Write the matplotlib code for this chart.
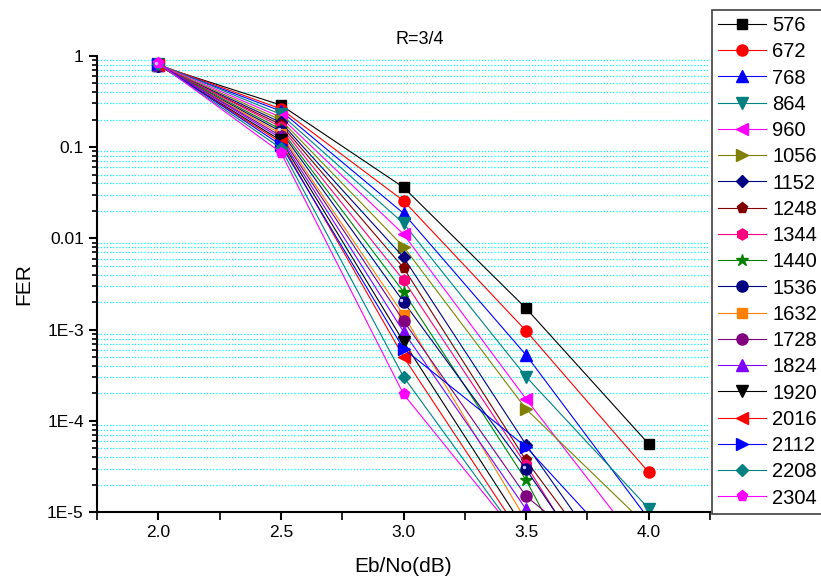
import numpy as np
import matplotlib
matplotlib.use('Agg')
import matplotlib.pyplot as plt
from matplotlib.ticker import FixedLocator, FixedFormatter, LogLocator, NullFormatter

plt.rcParams['font.family'] = ['Liberation Sans', 'DejaVu Sans']

# Eb/No points (dB)
ebno = [2.0, 2.5, 3.0, 3.5, 4.0]

# block sizes (legend entries)
block_sizes = ['576', '672', '768', '864', '960', '1056', '1152', '1248', '1344', '1440',
               '1536', '1632', '1728', '1824', '1920', '2016', '2112', '2208', '2304']

# FER per block size, one value per Eb/No point (values under 1E-5 are off the chart)
fer = [
    [0.78, 0.288, 0.0362, 1.71e-3, 5.6e-5],
    [0.80, 0.262, 0.0258, 9.7e-4, 2.74e-5],
    [0.79, 0.248, 0.0188, 5.27e-4, 8.5e-6],
    [0.81, 0.228, 0.0146, 3.05e-4, 1.1e-5],
    [0.80, 0.212, 0.0111, 1.74e-4, 3.2e-6],
    [0.79, 0.198, 0.0081, 1.35e-4, 6.8e-6],
    [0.78, 0.186, 0.0062, 5.5e-5, 6.8e-7],
    [0.77, 0.176, 0.00476, 3.7e-5, 5.8e-7],
    [0.80, 0.166, 0.00349, 3.3e-5, 2.3e-7],
    [0.79, 0.156, 0.0026, 2.25e-5, 6.7e-8],
    [0.78, 0.148, 0.00202, 2.95e-5, 3.2e-7],
    [0.79, 0.140, 0.00145, 8.1e-6, 1e-7],
    [0.80, 0.132, 0.00125, 1.5e-5, 1.2e-6],
    [0.81, 0.125, 0.00095, 1.08e-5, 1e-7],
    [0.79, 0.118, 0.00074, 6.2e-6, 1e-7],
    [0.80, 0.112, 0.000505, 4.7e-6, 1e-7],
    [0.82, 0.105, 0.00062, 5.2e-5, 1.8e-6],
    [0.81, 0.097, 0.000305, 4.3e-6, 1e-7],
    [0.83, 0.087, 0.000197, 4.3e-6, 1e-7],
]

# Origin-like colours and symbols
colors = ['black', 'red', 'blue', '#008080', 'magenta', '#808000', '#000080', '#800000',
          '#FF0080', '#008000', '#000080', '#FF8000', '#800080', '#8000FF', 'black',
          'red', 'blue', '#008080', 'magenta']
markers = ['s', 'o', '^', 'v', '<', '>', 'D', 'p', 'h', '*', 'o', 's', 'o', '^', 'v',
           '<', '>', 'D', 'p']
msizes = [7, 8, 8, 8, 8, 8, 6.5, 8, 8, 9, 8, 7, 8, 8, 8, 8, 8, 6.5, 8]

fig = plt.figure(figsize=(8.21, 5.79), dpi=100)
ax = fig.add_axes([97/821, 1 - 512.3/579, (710 - 97)/821, (512.3 - 55.7)/579])

for i in range(len(block_sizes)):
    ax.plot(ebno, fer[i], color=colors[i], marker=markers[i], markersize=msizes[i],
            markeredgecolor=colors[i], linewidth=0.8, label=block_sizes[i])

# little highlight on the 1536 "sphere" symbols
ax.plot(ebno, fer[10], linestyle='none', marker='o', markersize=2.5, color='#c8c8ff',
        markeredgewidth=0, transform=ax.transData +
        matplotlib.transforms.ScaledTranslation(-1.5/72, 1.5/72, fig.dpi_scale_trans))

ax.set_yscale('log')
ax.set_xlim(1.75, 4.25)
ax.set_ylim(1e-5, 1)

# ticks
ax.set_xticks([2.0, 2.5, 3.0, 3.5, 4.0])
ax.set_xticklabels(['2.0', '2.5', '3.0', '3.5', '4.0'])
ax.xaxis.set_minor_locator(FixedLocator([1.75, 2.25, 2.75, 3.25, 3.75, 4.25]))
ax.yaxis.set_major_locator(FixedLocator([1e-5, 1e-4, 1e-3, 1e-2, 1e-1, 1]))
ax.yaxis.set_major_formatter(FixedFormatter(['1E-5', '1E-4', '1E-3', '0.01', '0.1', '1']))
ax.yaxis.set_minor_locator(LogLocator(base=10, subs=np.arange(2, 10), numticks=20))
ax.yaxis.set_minor_formatter(NullFormatter())
ax.tick_params(axis='both', which='major', direction='out', length=6, width=1.5,
               labelsize=12.5, colors='black')
ax.tick_params(axis='y', which='minor', direction='out', length=3.5, width=1.2)
ax.tick_params(axis='x', which='minor', direction='out', length=6, width=1.2)

# cyan dotted minor grid
ax.yaxis.grid(True, which='minor', color='cyan', linestyle=(0, (1, 1.5)), linewidth=0.9)
ax.set_axisbelow(True)

for s in ['top', 'right']:
    ax.spines[s].set_visible(False)
for s in ['left', 'bottom']:
    ax.spines[s].set_linewidth(1.5)

ax.set_xlabel('Eb/No(dB)', fontsize=15, labelpad=12)
ax.set_ylabel('FER', fontsize=15, labelpad=10)
fig.text(420/821, 1 - 39/579, 'R=3/4', ha='center', va='center', fontsize=13)

leg = ax.legend(loc='upper left', bbox_to_anchor=(712/821, 1 - 10/579),
                bbox_transform=fig.transFigure, borderaxespad=0, fontsize=14.5,
                handlelength=2.4, handletextpad=0.3, labelspacing=0.36,
                borderpad=0.3, fancybox=False, framealpha=1)
leg.get_frame().set_edgecolor('#404040')
leg.get_frame().set_linewidth(1.2)

fig.savefig('out.png', dpi=100)
